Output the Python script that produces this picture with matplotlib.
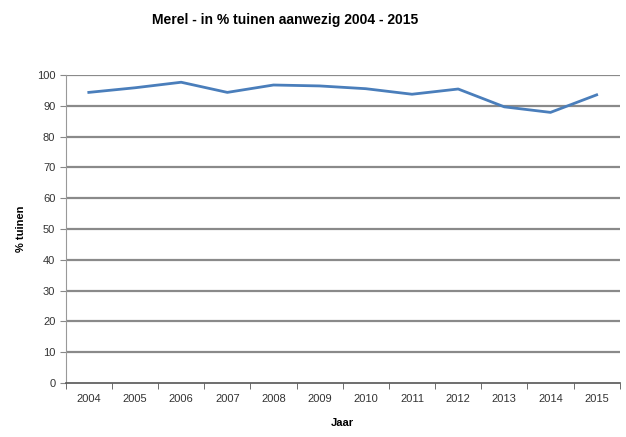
import matplotlib.pyplot as plt
import numpy as np

plt.rcParams['font.family'] = ['Liberation Sans', 'DejaVu Sans']

jaren = ['2004', '2005', '2006', '2007', '2008', '2009',
         '2010', '2011', '2012', '2013', '2014', '2015']
pct_tuinen = [94.4, 95.9, 97.7, 94.4, 96.8, 96.5,
              95.6, 93.8, 95.5, 89.7, 87.9, 93.6]
y_ticks = [0, 10, 20, 30, 40, 50, 60, 70, 80, 90, 100]


def main():
    fig = plt.figure(figsize=(6.26, 4.37), dpi=100)
    ax = fig.add_axes([0.105, 0.124, 0.885, 0.704])

    x = np.arange(len(jaren))
    for t in y_ticks[1:]:
        ax.axhline(t, color='#8a8a8a', lw=1.6, zorder=1)
    ax.plot(x, pct_tuinen, color='#4a7ebb', lw=2, zorder=3)

    ax.set_xlim(-0.5, len(jaren) - 0.5)
    ax.set_ylim(0, 100)
    ax.set_yticks(y_ticks)
    ax.set_xticks(x)
    ax.set_xticklabels(jaren)
    ax.set_xticks(np.arange(-0.5, len(jaren), 1), minor=True)
    ax.tick_params(axis='x', which='major', length=0, labelsize=8, colors='#333333', pad=8)
    ax.tick_params(axis='x', which='minor', length=4, color='#555555', direction='out')
    ax.tick_params(axis='y', length=4, labelsize=8, colors='#333333', color='#888888')

    for side in ['top', 'right']:
        ax.spines[side].set_visible(False)
    ax.spines['left'].set_color('#999999')
    ax.spines['bottom'].set_color('#555555')
    ax.spines['bottom'].set_linewidth(1.2)

    ax.set_xlabel('Jaar', fontsize=8, fontweight='bold', labelpad=10)
    ax.set_ylabel('% tuinen', fontsize=8, fontweight='bold', labelpad=8)
    fig.text(0.455, 0.955, 'Merel - in % tuinen aanwezig 2004 - 2015',
             fontsize=10, fontweight='bold', ha='center', va='center')

    fig.savefig('out.png', dpi=100)


if __name__ == '__main__':
    main()
